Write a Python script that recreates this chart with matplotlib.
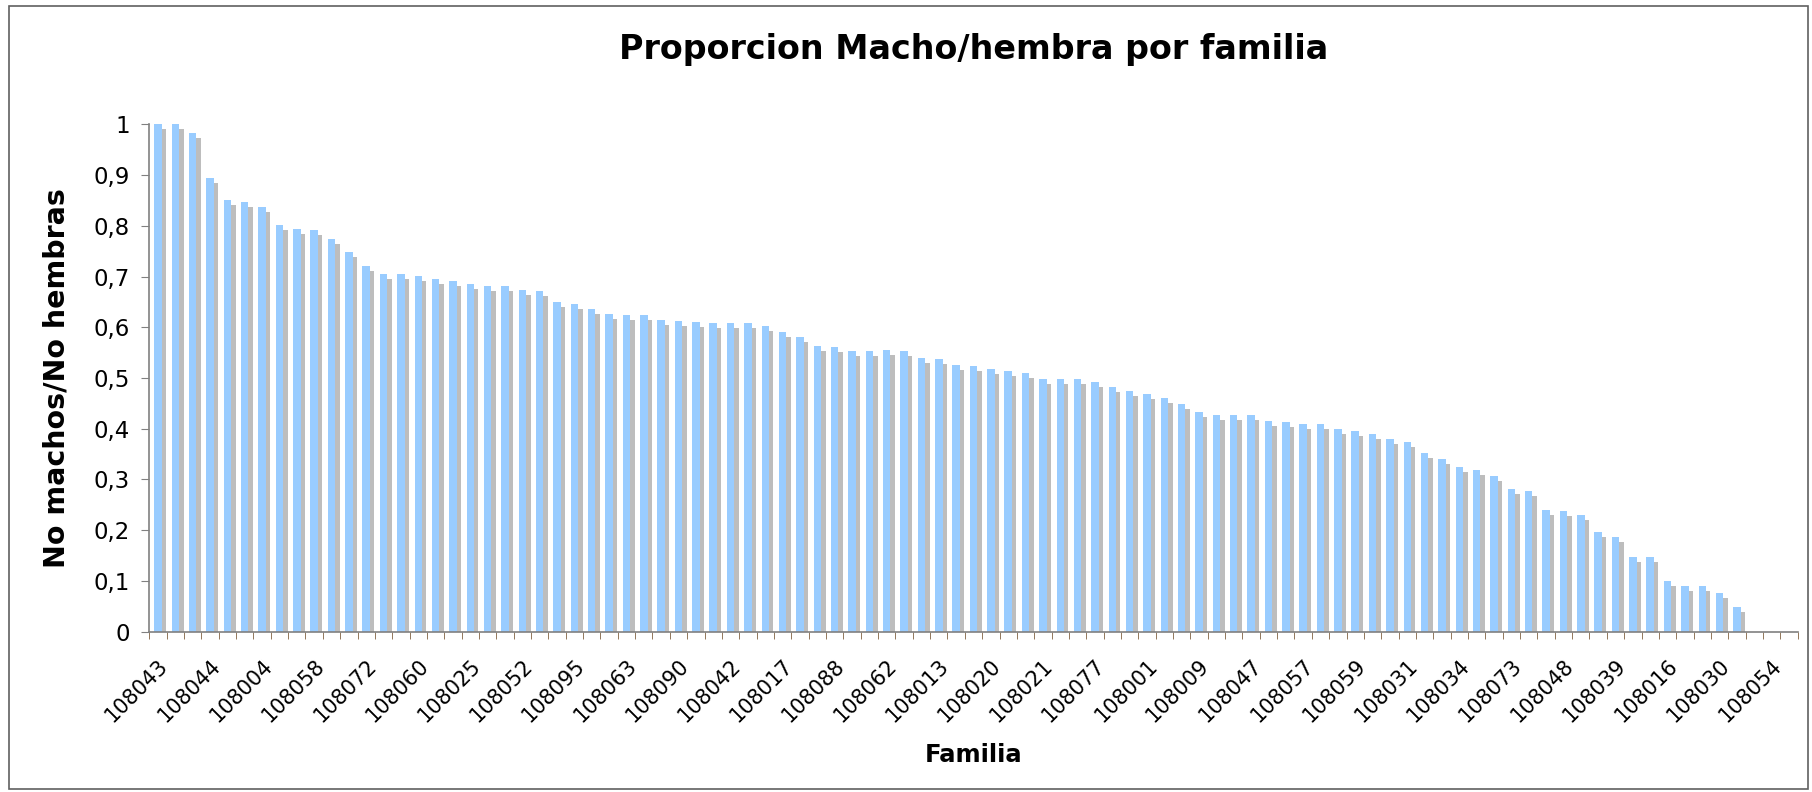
import numpy as np
import matplotlib
matplotlib.use("Agg")
import matplotlib.pyplot as plt
import matplotlib.patheffects as pe
from matplotlib.ticker import FixedLocator

# proporcion machos/hembras por familia (ordenado de mayor a menor)
proporcion = [
    1.00, 1.00, 0.983, 0.894, 0.851, 0.847, 0.838, 0.801, 0.794, 0.792,
    0.774, 0.749, 0.721, 0.706, 0.705, 0.701, 0.695, 0.692, 0.685, 0.681,
    0.681, 0.674, 0.672, 0.650, 0.645, 0.637, 0.626, 0.624, 0.624, 0.614,
    0.612, 0.610, 0.609, 0.609, 0.608, 0.602, 0.591, 0.581, 0.564, 0.562,
    0.554, 0.554, 0.555, 0.554, 0.540, 0.538, 0.526, 0.524, 0.517, 0.514,
    0.509, 0.499, 0.499, 0.499, 0.492, 0.483, 0.475, 0.468, 0.461, 0.449,
    0.434, 0.428, 0.428, 0.428, 0.416, 0.413, 0.409, 0.409, 0.399, 0.396,
    0.390, 0.379, 0.373, 0.352, 0.340, 0.325, 0.319, 0.307, 0.281, 0.277,
    0.240, 0.237, 0.231, 0.197, 0.186, 0.147, 0.147, 0.100, 0.090, 0.090,
    0.076, 0.049, 0.0, 0.0, 0.0,
]

# solo se ve una etiqueta de cada tres
familias = [
    "108043", "108044", "108004", "108058", "108072", "108060", "108025",
    "108052", "108095", "108063", "108090", "108042", "108017", "108088",
    "108062", "108013", "108020", "108021", "108077", "108001", "108009",
    "108047", "108057", "108059", "108031", "108034", "108073", "108048",
    "108039", "108016", "108030", "108054",
]
paso_etiquetas = 3

x = np.arange(len(proporcion))

fig = plt.figure(figsize=(18.12, 7.92), dpi=100)
ax = fig.add_axes([0.0824, 0.2024, 0.9097, 0.6406])

bars = ax.bar(x, proporcion, width=0.43, color="#99CCFF", linewidth=0)
sombra = [pe.SimplePatchShadow(offset=(3.2, -3.6), shadow_rgbFace="#BDBDBD", alpha=1.0), pe.Normal()]
for b in bars:
    b.set_path_effects(sombra)

ax.set_xlim(-0.5, len(proporcion) - 0.5)
ax.set_ylim(0, 1)

ax.set_yticks(np.arange(0, 1.01, 0.1))
ax.set_yticklabels(["0"] + ["0,%d" % i for i in range(1, 10)] + ["1"], fontsize=16.5)
ax.tick_params(axis="y", length=6, color="#808080", pad=8)

pos_etiquetas = x[::paso_etiquetas][:len(familias)]
ax.set_xticks(pos_etiquetas)
ax.set_xticklabels(familias, rotation=45, ha="right", rotation_mode="anchor", fontsize=15)
ax.tick_params(axis="x", which="major", length=0, pad=17)
ax.xaxis.set_minor_locator(FixedLocator(np.arange(-0.5, len(proporcion), 1)))
ax.tick_params(axis="x", which="minor", length=5, color="#806040")

for s in ["top", "right"]:
    ax.spines[s].set_visible(False)
for s in ["left", "bottom"]:
    ax.spines[s].set_color("#808080")
    ax.spines[s].set_linewidth(1.2)

ax.set_ylabel("No machos/No hembras", fontsize=20.5, fontweight="bold")
ax.yaxis.set_label_coords(-0.048, 0.5)
ax.set_xlabel("Familia", fontsize=17.5, fontweight="bold", va="top")
ax.xaxis.set_label_coords(0.5, -0.22)
fig.text(0.5375, 0.938, "Proporcion Macho/hembra por familia", ha="center", va="center",
         fontsize=24, fontweight="bold")

# marco exterior del grafico
fig.patches.append(plt.Rectangle((0.005, 0.004), 0.993, 0.988, transform=fig.transFigure,
                                 fill=False, edgecolor="#606060", linewidth=1.2))

fig.savefig("out.png", dpi=100)
